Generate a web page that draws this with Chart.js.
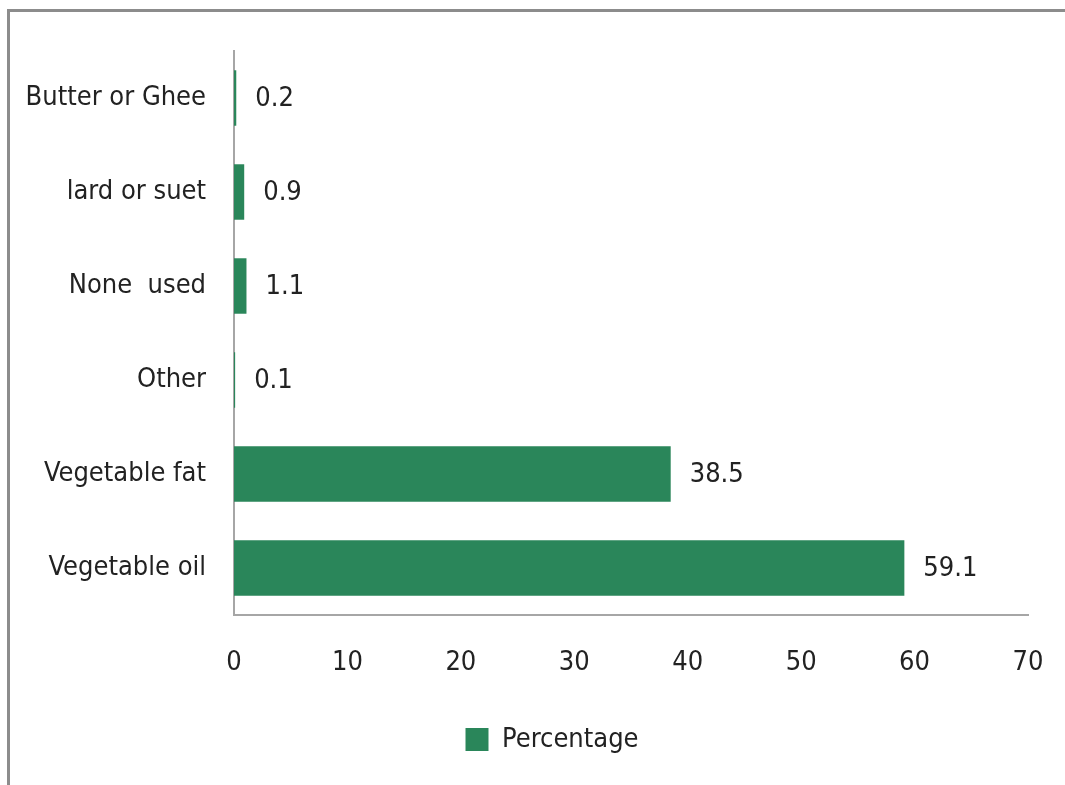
<!DOCTYPE HTML>
<html>
<head>
<title>Fat used for cooking</title>
<script src="https://cdn.jsdelivr.net/npm/chart.js@4.4.0/dist/chart.umd.min.js"></script>
<style>
    html, body {
        margin: 0;
        overflow: hidden;
        background-color: #ffffff;
    }
    #frame {
        position: absolute;
        left: 7px;
        top: 9px;
        width: 1055px;
        height: 773px;
        border-top: 3px solid #8c8c8c;
        border-left: 3px solid #8c8c8c;
    }
    #chartBox {
        position: absolute;
        left: 0;
        top: 0;
        width: 1065px;
        height: 785px;
    }
</style>
</head>
<body>
<div id="frame"></div>
<div id="chartBox">
    <canvas id="fatChart"></canvas>
</div>

<script>
// values
var categories = ["Butter or Ghee", "lard or suet", "None  used", "Other", "Vegetable fat", "Vegetable oil"];
var percentages = [0.2, 0.9, 1.1, 0.1, 38.5, 59.1];
var xTicks = [0, 10, 20, 30, 40, 50, 60, 70];

var FONT = "'Liberation Sans Narrow', 'DejaVu Sans Condensed', 'Arial Narrow', sans-serif";
var TEXT = '#222222';
var GREEN = '#2a865a';
var SIZE = 27;

// value labels to the right of each bar
var barLabels = {
    id: 'barLabels',
    afterDatasetsDraw: function (chart) {
        var ctx = chart.ctx;
        var meta = chart.getDatasetMeta(0);
        ctx.save();
        ctx.font = SIZE + 'px ' + FONT;
        ctx.fillStyle = TEXT;
        ctx.textAlign = 'left';
        ctx.textBaseline = 'middle';
        meta.data.forEach(function (bar, i) {
            ctx.fillText(String(percentages[i]), bar.x + 19, bar.y + 1);
        });
        ctx.restore();
    }
};

// legend sits a bit right of centre in the original
var legendShift = {
    id: 'legendShift',
    afterLayout: function (chart) {
        if (chart.legend) {
            chart.legend.left += 38;
            chart.legend.right += 38;
        }
    }
};

var ctx = document.getElementById('fatChart').getContext('2d');
var chart = new Chart(ctx, {
    type: 'bar',
    data: {
        labels: categories,
        datasets: [{
            label: 'Percentage',
            data: percentages,
            backgroundColor: GREEN,
            borderWidth: 0,
            categoryPercentage: 1,
            barPercentage: 0.59
        }]
    },
    options: {
        indexAxis: 'y',
        responsive: true,
        maintainAspectRatio: false,
        animation: false,
        layout: {
            padding: { left: 0, top: 51, right: 37, bottom: 22 }
        },
        scales: {
            x: {
                min: 0,
                max: 70,
                afterBuildTicks: function (scale) {
                    scale.ticks = xTicks.map(function (v) { return { value: v }; });
                },
                afterFit: function (scale) {
                    scale.height = 101;
                    scale.paddingLeft = 0;
                    scale.paddingRight = 0;
                },
                grid: { display: false, drawTicks: false },
                border: { display: true, color: '#a6a6a6', width: 2 },
                ticks: {
                    padding: 32,
                    color: TEXT,
                    maxRotation: 0,
                    font: { family: FONT, size: SIZE }
                }
            },
            y: {
                afterFit: function (scale) {
                    scale.width = 234;
                },
                grid: { display: false, drawTicks: false },
                border: { display: true, color: '#a6a6a6', width: 2 },
                ticks: {
                    padding: 28,
                    color: TEXT,
                    font: { family: FONT, size: SIZE }
                }
            }
        },
        plugins: {
            legend: {
                position: 'bottom',
                labels: {
                    boxWidth: 23,
                    boxHeight: 23,
                    padding: 10,
                    color: TEXT,
                    font: { family: FONT, size: SIZE }
                }
            },
            tooltip: { enabled: false }
        }
    },
    plugins: [barLabels, legendShift]
});
</script>
</body>
</html>
